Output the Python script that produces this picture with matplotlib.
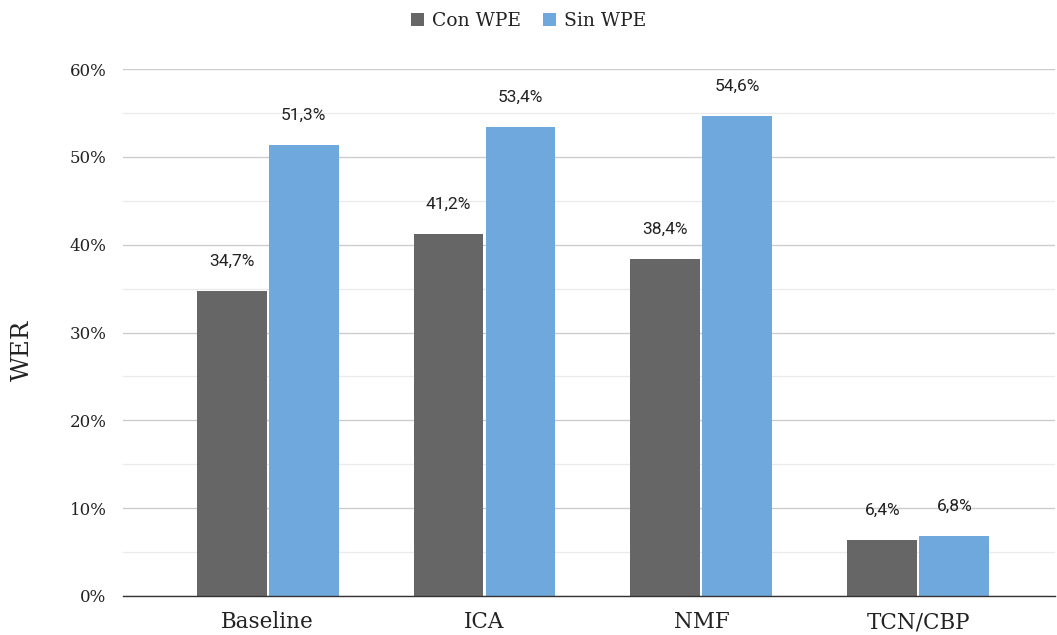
import numpy as np
import matplotlib.pyplot as plt
from matplotlib.ticker import MultipleLocator, FuncFormatter

categories = ["Baseline", "ICA", "NMF", "TCN/CBP"]
con_wpe = [34.7, 41.2, 38.4, 6.4]
sin_wpe = [51.3, 53.4, 54.6, 6.8]

SERIF = "DejaVu Serif"
SANS = "Roboto"

fig = plt.figure(figsize=(10.57, 6.35), dpi=100)
ax = fig.add_axes([123 / 1057, 1 - 596 / 635, 1 - 123 / 1057 - 0.002, (596 - 69) / 635])

x = np.arange(len(categories))
w = 0.322
gap = 0.005
b1 = ax.bar(x - w / 2 - gap, con_wpe, w, color="#666666", label="Con WPE", zorder=3)
b2 = ax.bar(x + w / 2 + gap, sin_wpe, w, color="#6fa8dc", label="Sin WPE", zorder=3)

for bars in (b1, b2):
    for r in bars:
        h = r.get_height()
        ax.annotate(f"{h:.1f}%".replace(".", ","), (r.get_x() + r.get_width() / 2, h),
                    xytext=(0, 16), textcoords="offset points", ha="center", va="bottom",
                    fontsize=12.5, family=SANS, color="#222222")

ax.set_xlim(-0.667, 3.63)
ax.set_ylim(0, 60)
ax.yaxis.set_major_locator(MultipleLocator(10))
ax.yaxis.set_minor_locator(MultipleLocator(5))
ax.yaxis.set_major_formatter(FuncFormatter(lambda v, p: f"{v:.0f}%"))
ax.grid(axis="y", which="major", color="#cccccc", linewidth=1, zorder=0)
ax.grid(axis="y", which="minor", color="#ebebeb", linewidth=1, zorder=0)
ax.set_axisbelow(True)

ax.set_xticks(x)
ax.set_xticklabels(categories, family=SERIF, fontsize=15.5, color="#222222")
ax.tick_params(axis="x", length=0, pad=11)
ax.tick_params(axis="y", which="both", length=0, pad=12, labelsize=12, labelcolor="#222222")
for t in ax.get_yticklabels():
    t.set_family(SERIF)

for s in ("top", "right", "left"):
    ax.spines[s].set_visible(False)
ax.spines["bottom"].set_color("#333333")
ax.spines["bottom"].set_linewidth(1)
ax.spines["bottom"].set_zorder(4)

fig.text(22 / 1057, 1 - 350 / 635, "WER", rotation=90, ha="center", va="center",
         family=SERIF, fontsize=17.5, color="#222222")

leg = fig.legend(handles=[b1, b2], loc="center", bbox_to_anchor=(0.5, 1 - 21 / 635), ncol=2,
                 frameon=False, prop={"family": SERIF, "size": 13.5},
                 handlelength=0.7, handleheight=0.7, handletextpad=0.4, columnspacing=1.2)
for t in leg.get_texts():
    t.set_color("#222222")

fig.savefig("out.png", dpi=100)
